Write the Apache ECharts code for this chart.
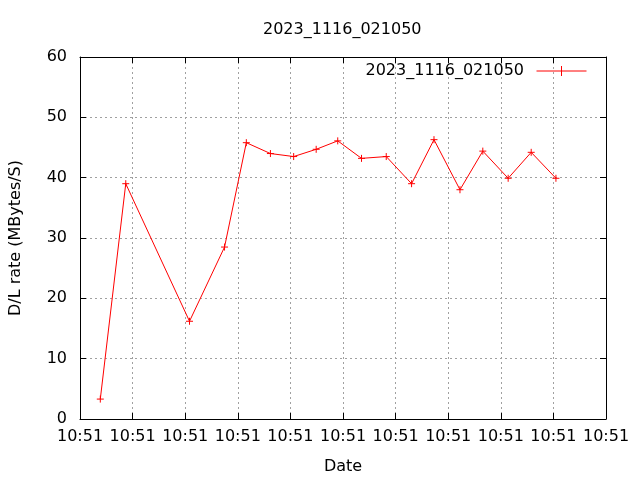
<!DOCTYPE html>
<html>
<head>
<meta charset="utf-8">
<script src="https://cdn.jsdelivr.net/npm/echarts@6/dist/echarts.min.js"></script>
<style>html,body{margin:0;padding:0;background:#fff}#c{width:640px;height:480px}</style>
</head>
<body>
<div id="c"></div>
<script>
const chartTitle = '2023_1116_021050';
const seriesName = '2023_1116_021050';
const baseTime = { h: 10, m: 51, s: 0 };
// seconds after base time
const timeOffsets = [1.93, 4.35, 10.41, 13.74, 15.81, 18.10, 20.31, 22.45, 24.50, 26.76, 29.11, 31.52, 33.65, 36.12, 38.29, 40.70, 42.89, 45.24];
const rates = [3.3, 39.0, 16.2, 28.5, 45.8, 44.0, 43.5, 44.7, 46.1, 43.2, 43.5, 39.0, 46.3, 38.0, 44.4, 39.9, 44.2, 39.9];
const xName = 'Date';
const yName = 'D/L rate (MBytes/S)';

const font = 'DejaVu Sans';
const fs = 16;
function fmtTime(v) {
  const total = baseTime.h * 3600 + baseTime.m * 60 + baseTime.s + v;
  const h = Math.floor(total / 3600) % 24, m = Math.floor(total / 60) % 60;
  return String(h).padStart(2, '0') + ':' + String(m).padStart(2, '0');
}
const data = timeOffsets.map((t, i) => [t, rates[i]]);
const plus = 'path://M0,5L10,5M5,0L5,10';
const gridLine = { show: true, lineStyle: { color: '#a0a0a0', type: [2, 3], width: 1 } };
const axisLine = { show: true, onZero: false, lineStyle: { color: '#000', width: 1 } };
const tick = { show: true, inside: true, length: 6, lineStyle: { color: '#000' } };

const chart = echarts.init(document.getElementById('c'), null, { renderer: 'canvas' });
chart.setOption({
  animation: false,
  backgroundColor: '#fff',
  textStyle: { fontFamily: font },
  title: { text: chartTitle, left: 258, top: 17, textStyle: { fontFamily: font, fontSize: fs, fontWeight: 'normal', color: '#000' } },
  legend: {
    right: 46, top: 58, align: 'right', itemWidth: 51, itemHeight: 10, itemGap: 0,
    icon: 'path://M0,5L50,5M25,0L25,10',
    textStyle: { fontFamily: font, fontSize: fs, color: '#000', padding: [0, 7, 0, 0] },
    itemStyle: { color: 'none', borderColor: '#ff0000', borderWidth: 1 },
    data: [seriesName]
  },
  grid: { left: 80, top: 57, right: 34, bottom: 61, containLabel: false },
  xAxis: [{
    type: 'value', min: 0, max: 50, interval: 5,
    name: xName, nameLocation: 'middle', nameGap: 40,
    nameTextStyle: { fontFamily: font, fontSize: fs, color: '#000' },
    axisLine, axisTick: tick, splitLine: gridLine,
    axisLabel: { formatter: fmtTime, fontFamily: font, fontSize: fs, color: '#000', margin: 10, showMinLabel: true, showMaxLabel: true }
  }, {
    type: 'value', position: 'top', min: 0, max: 50, interval: 5,
    axisLine, axisTick: tick, splitLine: { show: false }, axisLabel: { show: false }
  }],
  yAxis: [{
    type: 'value', min: 0, max: 60, interval: 10,
    name: yName, nameLocation: 'middle', nameGap: 56,
    nameTextStyle: { fontFamily: font, fontSize: fs, color: '#000' },
    axisLine, axisTick: tick, splitLine: gridLine,
    axisLabel: { fontFamily: font, fontSize: fs, color: '#000', margin: 13 }
  }, {
    type: 'value', position: 'right', min: 0, max: 60, interval: 10,
    axisLine, axisTick: tick, splitLine: { show: false }, axisLabel: { show: false }
  }],
  series: [{
    name: seriesName, type: 'line', data,
    symbol: plus, symbolSize: 7,
    lineStyle: { color: '#ff0000', width: 1 },
    itemStyle: { color: 'none', borderColor: '#ff0000', borderWidth: 1 },
    emphasis: { disabled: true }
  }]
});
</script>
</body>
</html>
